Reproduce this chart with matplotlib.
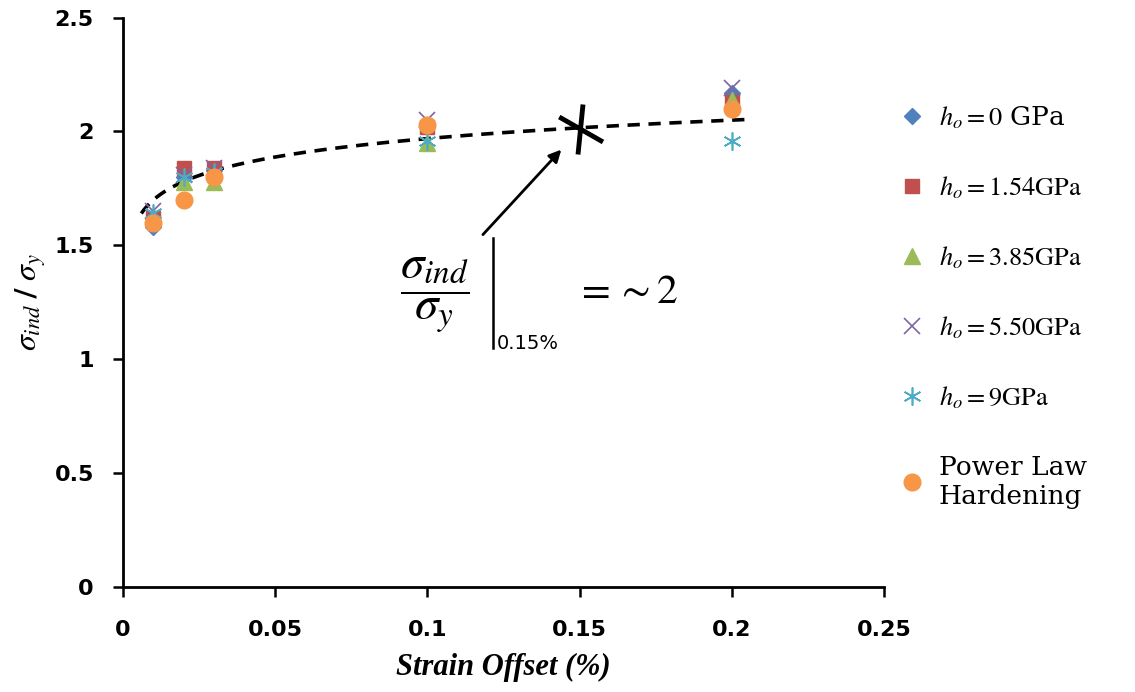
import numpy as np
import matplotlib
matplotlib.use("Agg")
import matplotlib.pyplot as plt
from matplotlib.path import Path

plt.rcParams['mathtext.fontset'] = 'stix'

# ---------------- data ----------------
strain = [0.01, 0.02, 0.03, 0.1, 0.2]
h0_0 = [1.58, 1.80, 1.83, 2.03, 2.17]
h0_154 = [1.62, 1.84, 1.84, 2.02, 2.13]
h0_385 = [1.63, 1.78, 1.78, 1.95, 2.14]
h0_550 = [1.65, 1.81, 1.84, 2.05, 2.19]
h0_9 = [1.64, 1.80, 1.82, 1.96, 1.96]
power_law = [1.60, 1.70, 1.80, 2.03, 2.10]

labels = [r'$h_o = 0$ GPa', r'$h_o = 1.54\mathrm{GPa}$', r'$h_o = 3.85\mathrm{GPa}$',
          r'$h_o = 5.50\mathrm{GPa}$', r'$h_o = 9\mathrm{GPa}$', 'Power Law\nHardening']

# logarithmic trend line y = a + b ln(x)
trend_a, trend_b = 2.2375, 0.1168
trend_range = (0.006, 0.2045)

highlight_x, highlight_y = 0.15, 2.01

xticks = [0, 0.05, 0.1, 0.15, 0.2, 0.25]
xtick_labels = ['0', '0.05', '0.1', '0.15', '0.2', '0.25']
yticks = [0, 0.5, 1, 1.5, 2, 2.5]
ytick_labels = ['0', '0.5', '1', '1.5', '2', '2.5']

# ---------------- figure ----------------
fig = plt.figure(figsize=(11.35, 6.92), dpi=100)
ax = fig.add_axes([0.1084, 0.1517, 0.6705, 0.823])

asterisk6 = (6, 2, 0)
series = [
    (h0_0, dict(marker='D', color='#4F81BD', ms=8, ls='none')),
    (h0_154, dict(marker='s', color='#C0504D', ms=10, ls='none')),
    (h0_385, dict(marker='^', color='#9BBB59', ms=11, ls='none')),
    (h0_550, dict(marker='x', color='#8064A2', ms=11, mew=1.2, ls='none')),
    (h0_9, dict(marker=asterisk6, color='#4BACC6', ms=13, mew=1.2, ls='none')),
    (power_law, dict(marker='o', color='#F79646', ms=12, ls='none')),
]
handles = []
for vals, kw in series:
    h, = ax.plot(strain, vals, **kw, zorder=3)
    handles.append(h)

tx = np.linspace(trend_range[0], trend_range[1], 200)
ax.plot(tx, trend_a + trend_b * np.log(tx), color='black', lw=2.6,
        dashes=(3.4, 2.4), zorder=2)

# big highlighted marker
big_marker = Path([(0.1, 1.0), (-0.1, -1.0), (-0.85, 0.5), (0.9, -0.5)],
                  [Path.MOVETO, Path.LINETO, Path.MOVETO, Path.LINETO])
ax.plot([highlight_x], [highlight_y], marker=big_marker, ms=36, mew=3.5,
        color='black', ls='none', zorder=4)

ax.annotate('', xy=(0.1446, 1.929), xytext=(0.1176, 1.538),
            arrowprops=dict(arrowstyle='-|>', color='black', lw=2.0,
                            mutation_scale=18))

ax.text(0.1025, 1.28, r'$\dfrac{\sigma_{ind}}{\sigma_y}$', fontsize=34,
        ha='center', va='center')
ax.plot([0.1214, 0.1214], [1.05, 1.53], color='black', lw=1.8)
ax.text(0.1228, 1.07, '0.15%', fontsize=14, ha='left', va='center',
        family='DejaVu Sans')
ax.text(0.1485, 1.30, r'$= \sim 2$', fontsize=30, ha='left', va='center')

ax.set_xlim(0, 0.25)
ax.set_ylim(0, 2.5)
ax.set_xticks(xticks)
ax.set_xticklabels(xtick_labels)
ax.set_yticks(yticks)
ax.set_yticklabels(ytick_labels)
for lab in ax.get_xticklabels() + ax.get_yticklabels():
    lab.set_fontweight('bold')
    lab.set_fontsize(16)
    lab.set_family('DejaVu Sans')
ax.tick_params(axis='both', direction='out', length=7, width=1.8, colors='black')
ax.tick_params(axis='x', pad=17)
ax.tick_params(axis='y', pad=14)
for s in ['top', 'right']:
    ax.spines[s].set_visible(False)
for s in ['left', 'bottom']:
    ax.spines[s].set_linewidth(2.0)

ax.set_xlabel('Strain Offset (%)', fontsize=22, fontweight='bold', style='italic',
              family='Liberation Serif', labelpad=9)
ax.set_ylabel(r'$\boldsymbol{\sigma_{ind}}\ \mathbf{/}\ \boldsymbol{\sigma_y}$',
              fontsize=23, labelpad=5)

leg = fig.legend(handles, labels, loc='upper left', bbox_to_anchor=(0.769, 0.884),
                 frameon=False, labelspacing=1.65, handletextpad=0.4,
                 handlelength=1.2, prop={'family': 'DejaVu Serif', 'size': 19})

fig.savefig('out.png', dpi=100)
